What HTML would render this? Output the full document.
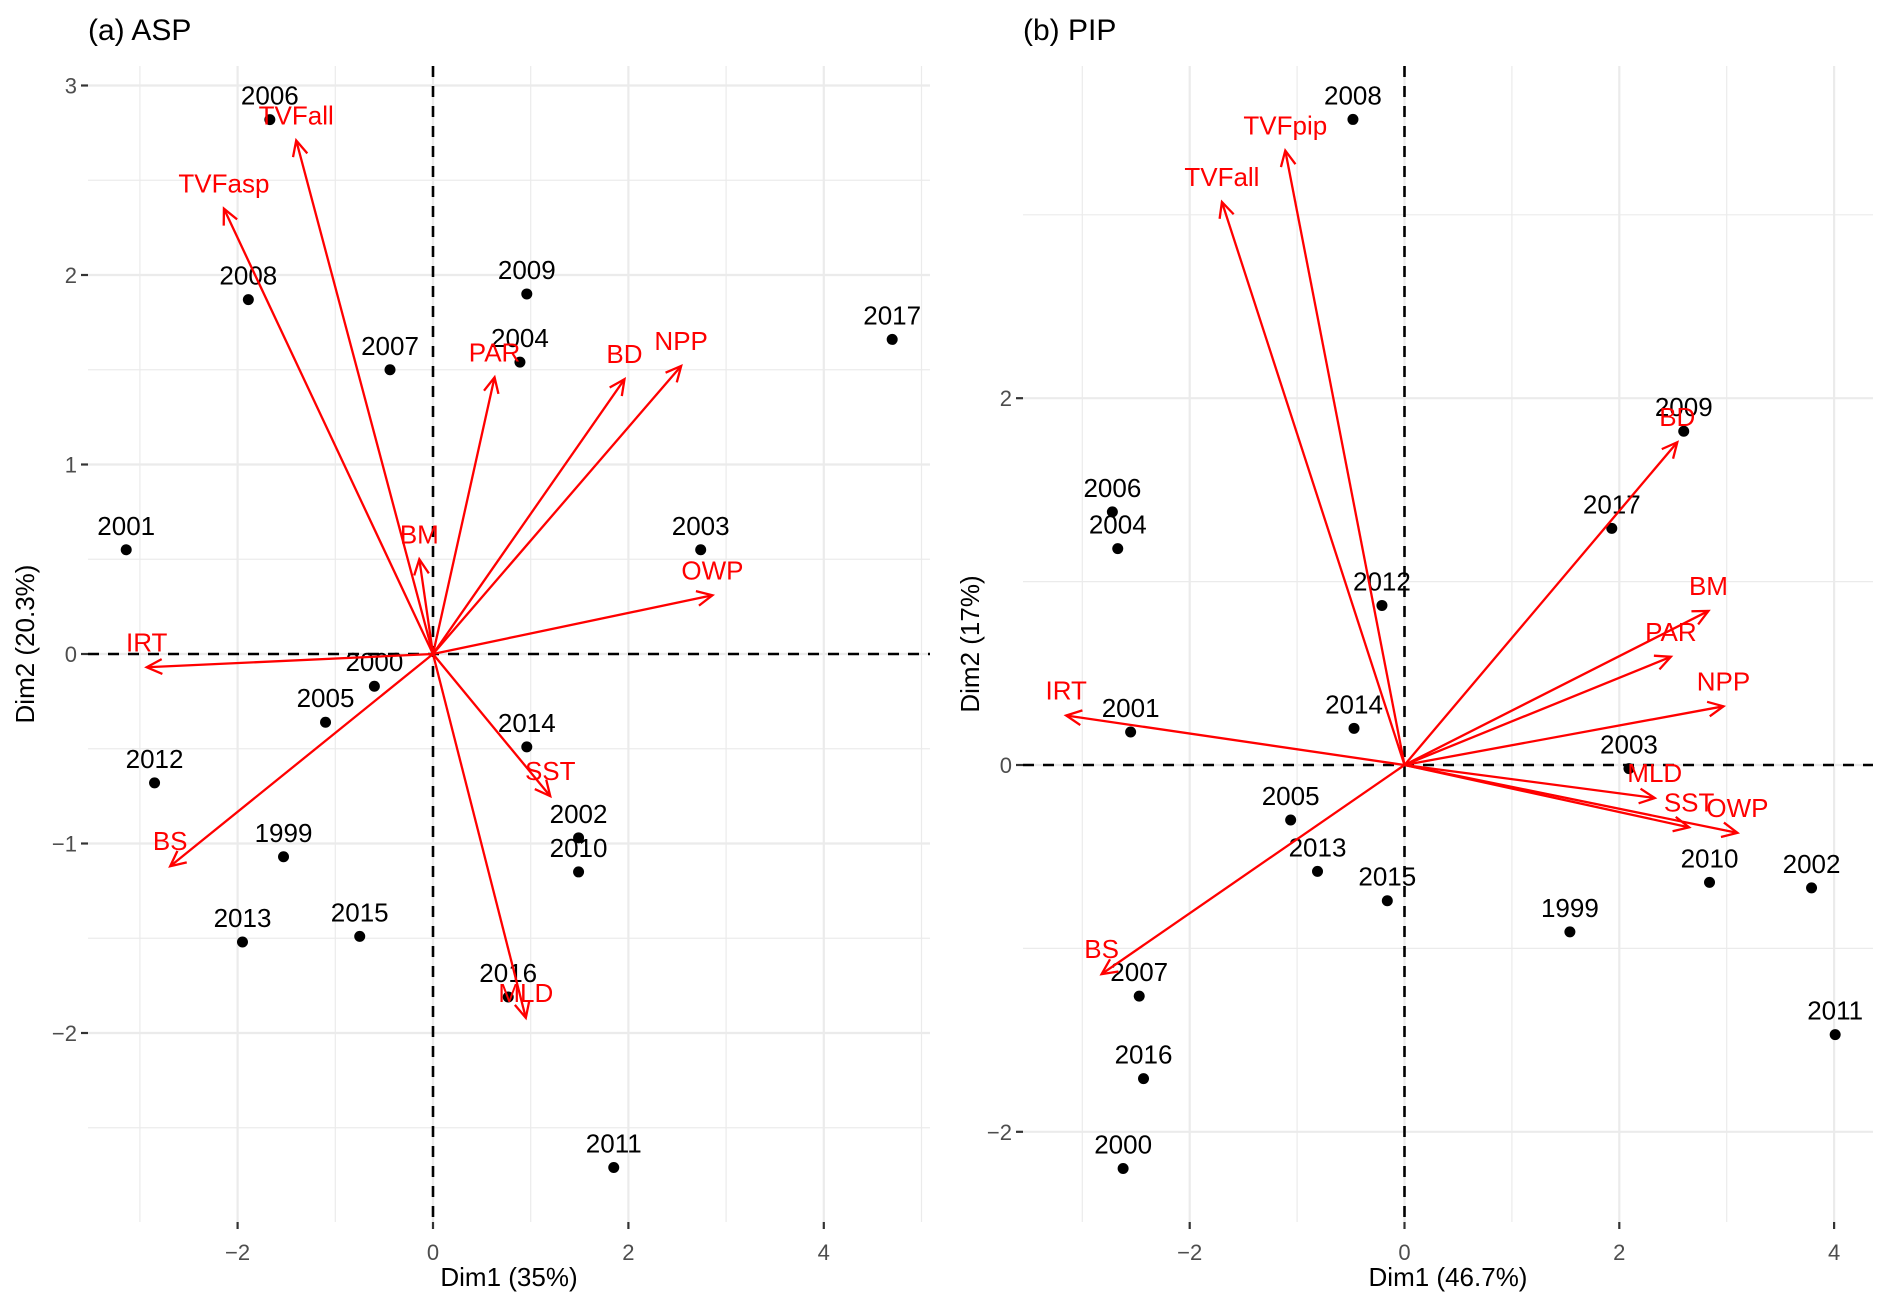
<!DOCTYPE html>
<html><head><meta charset="utf-8"><style>
html,body{margin:0;padding:0;background:#fff;}
svg{display:block;font-family:"Liberation Sans",Arial,sans-serif;}
</style></head><body>
<svg id="chart" width="1892" height="1311" viewBox="0 0 1892 1311" xmlns="http://www.w3.org/2000/svg">
<g id="pa"></g>
<g id="pb"></g>
</svg>
<script>
// ---- Panel (a) ASP data ----
const aYears = ["2006","2008","2007","2009","2004","2017","2001","2003","2000","2005","2014","2012","2002","2010","1999","2013","2015","2016","2011"];
const aDim1 = [-1.67,-1.89,-0.44,0.96,0.89,4.70,-3.14,2.74,-0.60,-1.10,0.96,-2.85,1.49,1.49,-1.53,-1.95,-0.75,0.77,1.85];
const aDim2 = [2.82,1.87,1.50,1.90,1.54,1.66,0.55,0.55,-0.17,-0.36,-0.49,-0.68,-0.97,-1.15,-1.07,-1.52,-1.49,-1.81,-2.71];
const aVars = ["TVFall","TVFasp","PAR","BD","NPP","BM","OWP","IRT","BS","SST","MLD"];
const aVarX = [-1.40,-2.14,0.63,1.96,2.54,-0.14,2.86,-2.93,-2.69,1.20,0.95];
const aVarY = [2.71,2.35,1.46,1.45,1.52,0.50,0.31,-0.07,-1.12,-0.75,-1.92];
const aXTicks = [-2,0,2,4];
const aYTicks = [-2,-1,0,1,2,3];
// ---- Panel (b) PIP data ----
const bYears = ["2008","2009","2017","2006","2004","2012","2001","2014","2003","2005","2013","2015","1999","2010","2002","2011","2007","2016","2000"];
const bDim1 = [-0.48,2.60,1.93,-2.72,-2.67,-0.21,-2.55,-0.47,2.09,-1.06,-0.81,-0.16,1.54,2.84,3.79,4.01,-2.47,-2.43,-2.62];
const bDim2 = [3.52,1.82,1.29,1.38,1.18,0.87,0.18,0.20,-0.02,-0.30,-0.58,-0.74,-0.91,-0.64,-0.67,-1.47,-1.26,-1.71,-2.20];
const bVars = ["TVFpip","TVFall","BD","BM","PAR","NPP","IRT","MLD","SST","OWP","BS"];
const bVarX = [-1.11,-1.70,2.54,2.83,2.48,2.97,-3.15,2.33,2.65,3.10,-2.82];
const bVarY = [3.35,3.07,1.76,0.84,0.59,0.32,0.27,-0.18,-0.34,-0.37,-1.14];
const bXTicks = [-2,0,2,4];
const bYTicks = [-2,0,2];

const NS="http://www.w3.org/2000/svg";
function mk(parent,tag,attrs,text){const e=document.createElementNS(NS,tag);for(const k in attrs)e.setAttribute(k,attrs[k]);if(text!==undefined)e.textContent=text;parent.appendChild(e);return e;}

function panel(g,cfg){
  const sx=v=>cfg.x0+v*cfg.ux, sy=v=>cfg.y0-v*cfg.uy;
  const L=cfg.left,R=cfg.right,T=cfg.top,B=cfg.bottom;
  const xmin=(L-cfg.x0)/cfg.ux, xmax=(R-cfg.x0)/cfg.ux, ymin=(cfg.y0-B)/cfg.uy, ymax=(cfg.y0-T)/cfg.uy;
  for(let v=Math.ceil(xmin/cfg.xs*2)*cfg.xs/2; v<=xmax; v+=cfg.xs/2){
    const major=Math.abs(v/cfg.xs-Math.round(v/cfg.xs))<1e-6;
    const l=mk(g,'line',{x1:sx(v),x2:sx(v),y1:T,y2:B,stroke:'#ebebeb','stroke-width':major?2.2:1.2});
    
  }
  for(let v=Math.ceil(ymin/cfg.ys*2)*cfg.ys/2; v<=ymax; v+=cfg.ys/2){
    const major=Math.abs(v/cfg.ys-Math.round(v/cfg.ys))<1e-6;
    const l=mk(g,'line',{x1:L,x2:R,y1:sy(v),y2:sy(v),stroke:'#ebebeb','stroke-width':major?2.2:1.2});
    
  }
  cfg.xt.forEach(v=>{
    const t=mk(g,'line',{x1:sx(v),x2:sx(v),y1:B,y2:B+7,stroke:'#333','stroke-width':2.2});
    
    const tl=mk(g,'text',{x:sx(v),y:B+38,'text-anchor':'middle','font-size':22,fill:'#4d4d4d'},v<0?'\u2212'+(-v):String(v));
    
  });
  cfg.yt.forEach(v=>{
    const t=mk(g,'line',{x1:L-7,x2:L,y1:sy(v),y2:sy(v),stroke:'#333','stroke-width':2.2});
    
    const tl=mk(g,'text',{x:L-11,y:sy(v)+8,'text-anchor':'end','font-size':22,fill:'#4d4d4d'},v<0?'\u2212'+(-v):String(v));
    
  });
  const zx=mk(g,'line',{x1:sx(0),x2:sx(0),y1:T,y2:B,stroke:'#000','stroke-width':2.6,'stroke-dasharray':'11,9'});
  
  const zy=mk(g,'line',{x1:L,x2:R,y1:sy(0),y2:sy(0),stroke:'#000','stroke-width':2.6,'stroke-dasharray':'11,9'});
  
  cfg.years.forEach((yr,i)=>{
    const c=mk(g,'circle',{cx:sx(cfg.d1[i]),cy:sy(cfg.d2[i]),r:5.5,fill:'#000'});
    
    const t=mk(g,'text',{x:sx(cfg.d1[i]),y:sy(cfg.d2[i])-15,'text-anchor':'middle','font-size':26,fill:'#000'},yr);
    
  });
  cfg.vars.forEach((nm,i)=>{
    const x1=sx(0),y1=sy(0),x2=sx(cfg.vx[i]),y2=sy(cfg.vy[i]);
    const a=Math.atan2(y2-y1,x2-x1),h=17,w=0.45;
    const ag=mk(g,'g',{});
    
    mk(ag,'line',{x1,y1,x2,y2,stroke:'#ff0000','stroke-width':2.3});
    mk(ag,'polyline',{points:`${x2-h*Math.cos(a-w)},${y2-h*Math.sin(a-w)} ${x2},${y2} ${x2-h*Math.cos(a+w)},${y2-h*Math.sin(a+w)}`,fill:'none',stroke:'#ff0000','stroke-width':2.3});
    const t=mk(g,'text',{x:x2,y:y2-16,'text-anchor':'middle','font-size':26,fill:'#ff0000'},nm);
    
  });
  const ti=mk(g,'text',{x:L,y:40,'font-size':30,fill:'#000'},cfg.title);
  
  const xt=mk(g,'text',{x:(L+R)/2,y:1286,'text-anchor':'middle','font-size':26,fill:'#000'},cfg.xlab);
  
  const yt=mk(g,'text',{x:0,y:0,'text-anchor':'middle','font-size':26,fill:'#000',transform:`translate(${cfg.ylx},${(T+B)/2}) rotate(-90)`},cfg.ylab);
  
}
panel(document.getElementById('pa'),{x0:433,ux:97.7,y0:654,uy:189.5,left:88,right:930,top:66,bottom:1222,xs:2,ys:1,
  xt:aXTicks,yt:aYTicks,years:aYears,d1:aDim1,d2:aDim2,vars:aVars,vx:aVarX,vy:aVarY,
  title:'(a) ASP',xlab:'Dim1 (35%)',ylab:'Dim2 (20.3%)',ylx:34});
panel(document.getElementById('pb'),{x0:1404.5,ux:107.4,y0:765,uy:183.4,left:1023,right:1873,top:66,bottom:1222,xs:2,ys:2,
  xt:bXTicks,yt:bYTicks,years:bYears,d1:bDim1,d2:bDim2,vars:bVars,vx:bVarX,vy:bVarY,
  title:'(b) PIP',xlab:'Dim1 (46.7%)',ylab:'Dim2 (17%)',ylx:979});
</script>
</body></html>
